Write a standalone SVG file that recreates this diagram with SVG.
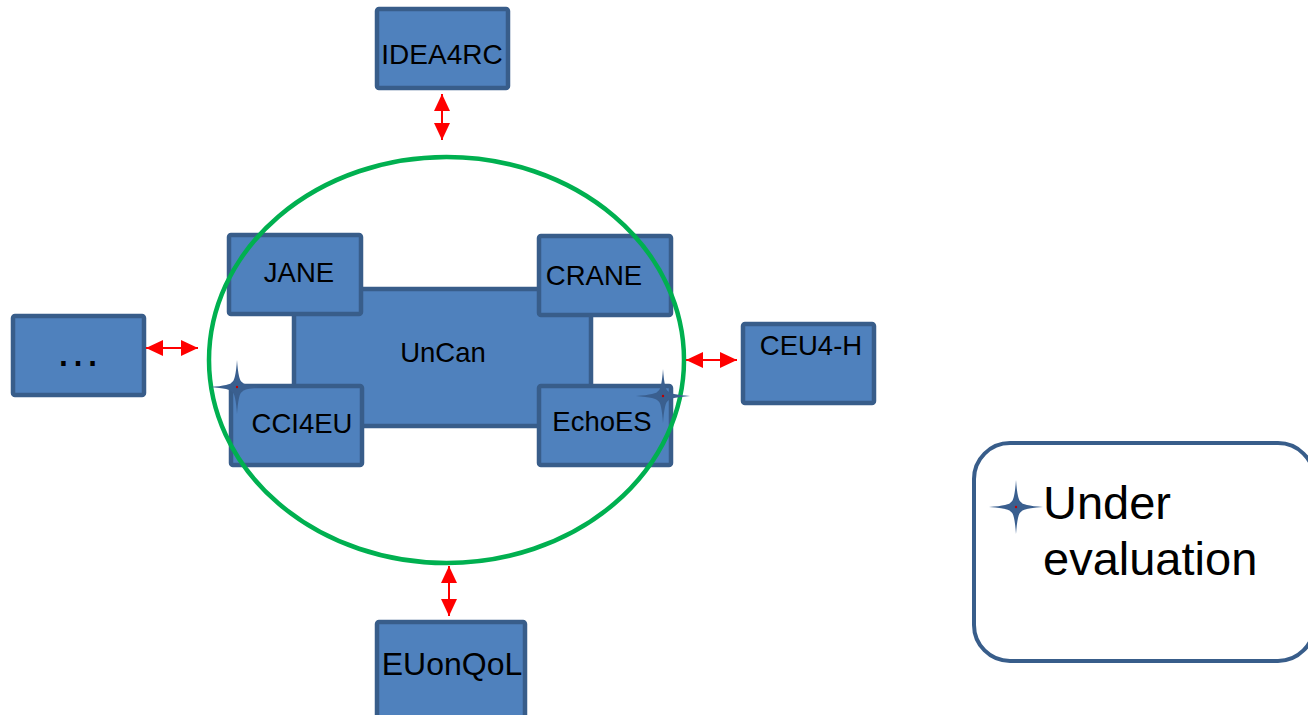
<svg xmlns="http://www.w3.org/2000/svg" width="1308" height="715" viewBox="0 0 1308 715">
<style>
.box{fill:#4F81BD;stroke:#385D8A;stroke-width:4.5}
.lbl{font-family:"Liberation Sans",Arial,sans-serif;font-size:27.5px;fill:#000;text-anchor:middle}
.conn{stroke:#FF0000;stroke-width:2;fill:none;marker-start:url(#ah);marker-end:url(#ah)}
.star{fill:#3A5F8F}
</style>
<defs>
<marker id="ah" markerUnits="userSpaceOnUse" markerWidth="17" markerHeight="16" refX="17" refY="8" orient="auto-start-reverse">
<path d="M0,0 L17,8 L0,16 z" fill="#FF0000"/>
</marker>
<g id="starshape">
<path class="star" d="M0,-27 Q1.5,-6 5,-5 Q6,-1.5 27,0 Q6,1.5 5,5 Q1.5,6 0,27 Q-1.5,6 -5,5 Q-6,1.5 -27,0 Q-6,-1.5 -5,-5 Q-1.5,-6 0,-27 z"/>
<circle r="1.2" fill="#C00000"/>
</g>
</defs>
<rect width="1308" height="715" fill="#fff"/>
<g id="uncan"><rect class="box" x="294" y="289" width="297" height="137" rx="2"/><text class="lbl" x="443" y="362">UnCan</text></g>
<g id="jane"><rect class="box" x="229" y="235" width="132" height="79" rx="2"/><text class="lbl" x="299" y="282">JANE</text></g>
<g id="crane"><rect class="box" x="539" y="236" width="132" height="79" rx="2"/><text class="lbl" x="594" y="285">CRANE</text></g>
<g id="cci4eu"><rect class="box" x="231" y="386" width="131" height="79" rx="2"/><text class="lbl" x="302" y="433">CCI4EU</text></g>
<g id="echoes"><rect class="box" x="539" y="386" width="132" height="79" rx="2"/><text class="lbl" x="602" y="431">EchoES</text></g>
<g id="idea4rc"><rect class="box" x="377" y="9" width="131" height="79" rx="2"/><text class="lbl" x="442" y="64" style="font-size:28px">IDEA4RC</text></g>
<g id="dots"><rect class="box" x="13" y="316" width="131" height="79" rx="2"/><text class="lbl" x="78" y="366" style="font-size:46px">…</text></g>
<g id="ceu4h"><rect class="box" x="743" y="324" width="131" height="79" rx="2"/><text class="lbl" x="811" y="355">CEU4-H</text></g>
<g id="euonqol"><rect class="box" x="377" y="622" width="148" height="100" rx="2"/><text class="lbl" x="452" y="675" style="font-size:32px">EUonQoL</text></g>
<g id="circle"><ellipse cx="446.5" cy="360" rx="237.5" ry="203" fill="none" stroke="#00B050" stroke-width="4.5"/></g>
<g id="connectors">
<line class="conn" x1="442" y1="94" x2="442" y2="140"/>
<line class="conn" x1="146" y1="348" x2="198" y2="348"/>
<line class="conn" x1="686" y1="360" x2="737" y2="360"/>
<line class="conn" x1="449" y1="566" x2="449" y2="616"/>
</g>
<g id="stars">
<use href="#starshape" x="237" y="387"/>
<use href="#starshape" x="663" y="396"/>
</g>
<g id="legend">
<rect x="974" y="443" width="340" height="218" rx="36" fill="#fff" stroke="#385D8A" stroke-width="4"/>
<use href="#starshape" x="1016" y="507"/>
<text x="1043" y="519" style="font-family:'Liberation Sans',Arial,sans-serif;font-size:47px">Under</text>
<text x="1043" y="575" style="font-family:'Liberation Sans',Arial,sans-serif;font-size:47px">evaluation</text>
</g>
</svg>
